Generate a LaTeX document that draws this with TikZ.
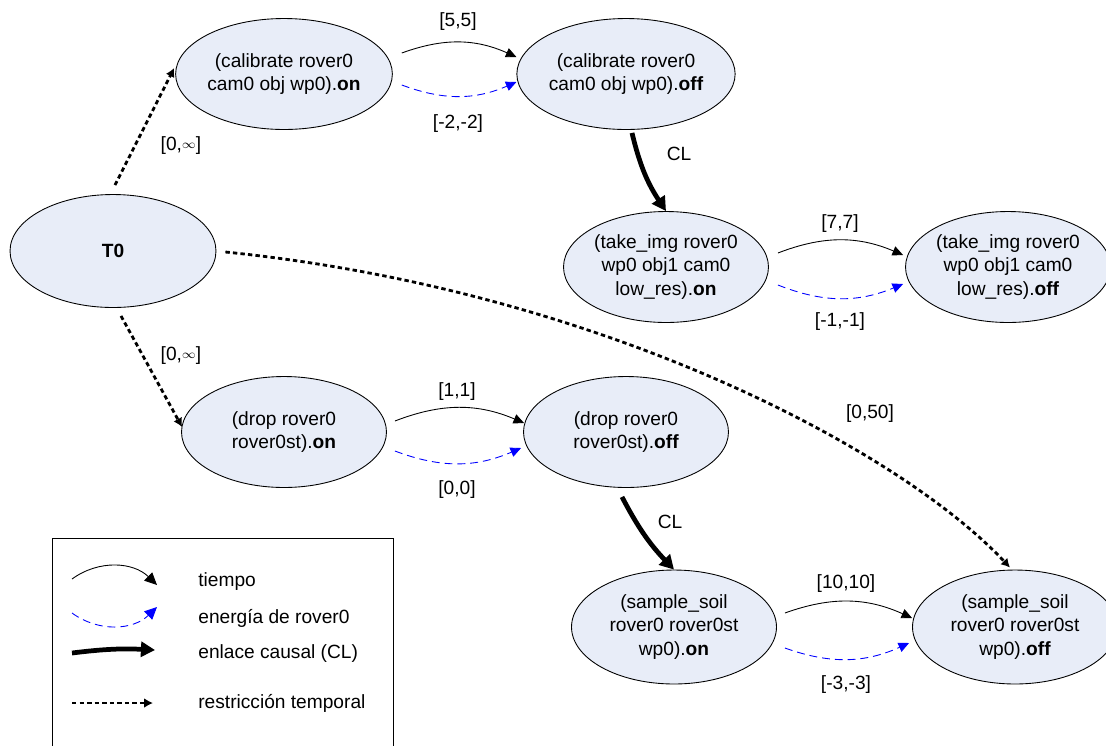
\documentclass[tikz,border=0pt]{standalone}
\usepackage{fontspec}
\setmainfont{Liberation Sans}
\usetikzlibrary{shapes.geometric,arrows.meta}
\definecolor{nodefill}{RGB}{232,237,248}
\begin{document}
\begin{tikzpicture}[x=0.02cm,y=0.02cm,
  every node/.style={font=\fontsize{10.9}{13.6}\selectfont},
  act/.style={ellipse,draw=black,line width=0.5pt,fill=nodefill,minimum width=4.1cm,minimum height=2.22cm,inner sep=0pt,align=center},
  tarrow/.style={draw=black,line width=0.5pt,-{Triangle[length=6pt,width=5.5pt]}},
  earrow/.style={draw=blue,line width=0.5pt,dash pattern=on 4.5pt off 2.8pt,-{Triangle[length=6pt,width=5.5pt]}},
  clarrow/.style={draw=black,line width=2.7pt,-{Triangle[length=8pt,width=8.5pt]}},
  rarrow/.style={draw=black,line width=1.6pt,dash pattern=on 2.5pt off 1.8pt,-{Latex[length=5pt,width=5.5pt]}},
  lbl/.style={inner sep=1pt},
  legtxt/.style={anchor=west,inner sep=0pt}
]
\useasboundingbox (0,0) rectangle (1106,-745);

% nodes
\node[act,minimum width=4.12cm,minimum height=2.26cm] (T0) at (113,-251) {\textbf{T0}};
\node[act] (calon) at (284,-74) {(calibrate rover0\\cam0 obj wp0).\textbf{on}};
\node[act] (caloff) at (626,-74) {(calibrate rover0\\cam0 obj wp0).\textbf{off}};
\node[act] (takeon) at (666,-267) {(take\_img rover0\\wp0 obj1 cam0\\low\_res).\textbf{on}};
\node[act] (takeoff) at (1008,-267) {(take\_img rover0\\wp0 obj1 cam0\\low\_res).\textbf{off}};
\node[act] (dropon) at (284,-432) {(drop rover0\\rover0st).\textbf{on}};
\node[act] (dropoff) at (626,-432) {(drop rover0\\rover0st).\textbf{off}};
\node[act,minimum height=2.28cm] (sampon) at (674,-627) {(sample\_soil\\rover0 rover0st\\wp0).\textbf{on}};
\node[act,minimum height=2.28cm] (sampoff) at (1015,-627) {(sample\_soil\\rover0 rover0st\\wp0).\textbf{off}};

% calibrate
\draw[tarrow] ([shift={(9,21)}]calon.east) to[bend left=22] ([shift={(0,17)}]caloff.west);
\draw[earrow] ([shift={(9,-11)}]calon.east) to[bend right=22] ([shift={(0,-8)}]caloff.west);
\node[lbl] (l55) at (458,-22) {[5,5]};
\node[lbl] (l22) at (458,-124) {[-2,-2]};

% take_img
\draw[tarrow] ([shift={(9,14)}]takeon.east) to[bend left=22] ([shift={(-2,12)}]takeoff.west);
\draw[earrow] ([shift={(9,-18)}]takeon.east) to[bend right=22] ([shift={(-2,-17)}]takeoff.west);
\node[lbl] (l77) at (840,-224) {[7,7]};
\node[lbl] (l11) at (840,-322) {[-1,-1]};

% drop
\draw[tarrow] ([shift={(8,11)}]dropon.east) to[bend left=22] ([shift={(1,9)}]dropoff.west);
\draw[earrow] ([shift={(8,-19)}]dropon.east) to[bend right=22] ([shift={(-2,-16)}]dropoff.west);
\node[lbl] (l1) at (457,-392) {[1,1]};
\node[lbl] (l00) at (457,-490) {[0,0]};

% sample
\draw[tarrow] ([shift={(8,14)}]sampon.east) to[bend left=22] ([shift={(0,9)}]sampoff.west);
\draw[earrow] ([shift={(8,-21)}]sampon.east) to[bend right=22] ([shift={(-3,-16)}]sampoff.west);
\node[lbl] (l1010) at (846,-584) {[10,10]};
\node[lbl] (l33) at (846,-685) {[-3,-3]};

% causal links
\draw[clarrow] ([shift={(6,-3)}]caloff.south) to[bend right=10] (takeon.north);
\node[lbl] (cl1) at (679,-154) {CL};
\draw[clarrow] ([shift={(-4,-9)}]dropoff.south) to[bend right=8] (sampon.north);
\node[lbl] (cl2) at (670,-522) {CL};

% temporal restrictions
\draw[rarrow] ([shift={(2,9)}]T0.north) -- ([shift={(-1,6)}]calon.west);
\node[lbl] (r1) at (181,-146) {[0,\raisebox{0.2ex}{\scriptsize$\infty$}]};
\draw[rarrow] ([shift={(8,-8)}]T0.south) -- ([shift={(1,5)}]dropon.west);
\node[lbl] (r2) at (181,-356) {[0,\raisebox{0.2ex}{\scriptsize$\infty$}]};
\draw[rarrow] ([shift={(9,-1)}]T0.east) .. controls (600,-290) and (900,-450) .. ([shift={(-5,2)}]sampoff.north);
\node[lbl] (r3) at (870,-414) {[0,50]};

% legend
\draw[line width=0.5pt] (52,-746) -- (52,-538) -- (393,-538) -- (393,-746);
\coordinate (a1) at (72,-579); \coordinate (b1) at (157,-585);
\draw[tarrow,-{Triangle[length=7pt,width=6.5pt]}] (a1) to[bend left=40] (b1);
\node[legtxt] (t1) at (198,-582) {tiempo};
\coordinate (a2) at (72,-613); \coordinate (b2) at (157,-607);
\draw[earrow,-{Triangle[length=7pt,width=6.5pt]}] (a2) to[bend right=40] (b2);
\node[legtxt] (t2) at (198,-618) {energía de rover0};
\coordinate (a3) at (72,-653); \coordinate (b3) at (155,-650);
\draw[clarrow] (a3) to[bend left=5] (b3);
\node[legtxt] (t3) at (198,-654) {enlace causal (CL)};
\coordinate (a4) at (72,-703); \coordinate (b4) at (153,-703);
\draw[rarrow] (a4) -- (b4);
\node[legtxt] (t4) at (198,-703) {restricción temporal};
\end{tikzpicture}
\end{document}
